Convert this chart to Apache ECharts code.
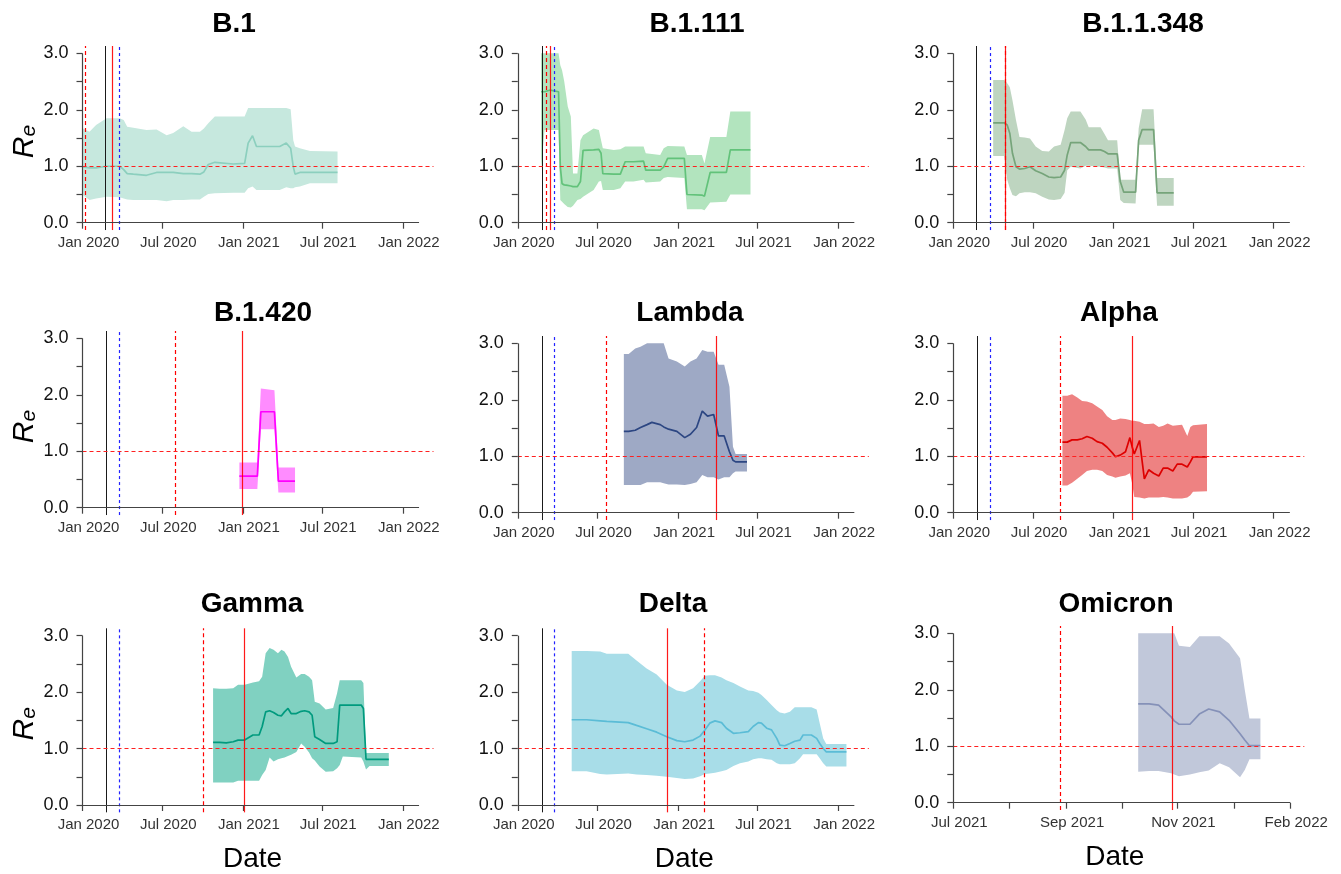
<!DOCTYPE html>
<html>
<head>
<meta charset="utf-8">
<script src="https://cdn.jsdelivr.net/npm/echarts@6/dist/echarts.min.js"></script>
<style>
html,body{margin:0;padding:0;background:#ffffff;}
#chart{width:1341px;height:874px;}
</style>
</head>
<body>
<div id="chart"></div>
<script>
// ---------- axis ticks ----------
const xTickDates = ['2020-01-01','2020-07-01','2021-01-01','2021-07-01','2022-01-01'];
const xTickLabels = ['Jan 2020','Jul 2020','Jan 2021','Jul 2021','Jan 2022'];
const omiTickDates = ['2021-07-01','2021-08-06','2021-09-11','2021-10-17','2021-11-21','2021-12-27','2022-02-01'];
const omiTickLabels = ['Jul 2021','','Sep 2021','','Nov 2021','','Feb 2022'];
const yTickValues = [0,0.5,1,1.5,2,2.5,3];
const yLabelValues = [0,1,2,3];

// ---------- variants ----------
const variantNames = ['B.1','B.1.111','B.1.1.348','B.1.420','Lambda','Alpha','Gamma','Delta','Omicron'];

// B.1
const b1Dates = ['2020-01-02','2020-01-17','2020-02-01','2020-02-25','2020-03-26','2020-04-04','2020-04-12','2020-04-26','2020-05-26','2020-06-18','2020-07-11','2020-07-26','2020-08-18','2020-09-06','2020-09-25','2020-10-04','2020-10-14','2020-10-29','2020-12-10','2021-01-05','2021-01-13','2021-01-23','2021-02-01','2021-03-26','2021-04-10','2021-04-20','2021-04-26','2021-04-30','2021-05-11','2021-06-03','2021-08-05'];
const b1Re = [0.99,0.97,0.97,1.00,1.00,0.94,0.87,0.86,0.84,0.89,0.89,0.89,0.87,0.87,0.86,0.90,1.03,1.07,1.04,1.05,1.41,1.54,1.35,1.35,1.41,1.32,0.99,0.86,0.89,0.89,0.89];
const b1Lo = [0.49,0.40,0.43,0.46,0.45,0.43,0.41,0.40,0.40,0.40,0.38,0.40,0.40,0.41,0.41,0.46,0.51,0.52,0.53,0.53,0.61,0.64,0.58,0.58,0.63,0.61,0.61,0.63,0.64,0.70,0.70];
const b1Hi = [1.67,1.61,1.73,1.85,1.85,1.82,1.70,1.68,1.64,1.65,1.55,1.59,1.71,1.61,1.61,1.67,1.76,1.88,1.88,1.88,2.03,2.03,2.03,2.03,2.03,2.01,1.46,1.35,1.32,1.27,1.26];

// B.1.111
const b1111Dates = ['2020-02-23','2020-03-02','2020-03-15','2020-04-03','2020-04-07','2020-04-11','2020-04-16','2020-04-24','2020-05-01','2020-05-06','2020-05-16','2020-05-23','2020-05-29','2020-06-22','2020-07-04','2020-07-09','2020-07-13','2020-08-07','2020-08-22','2020-09-02','2020-09-21','2020-10-14','2020-10-19','2020-11-21','2020-11-29','2020-12-08','2021-01-15','2021-01-21','2021-02-24','2021-03-02','2021-03-15','2021-04-21','2021-04-30','2021-06-15'];
const b1111Re = [2.32,2.32,2.35,2.32,0.99,0.69,0.67,0.66,0.65,0.64,0.64,0.73,1.28,1.29,1.30,1.23,0.87,0.86,0.86,1.08,1.08,1.09,0.93,0.93,0.99,1.14,1.14,0.50,0.49,0.47,0.89,0.89,1.29,1.29];
const b1111Lo = [0.93,1.64,1.64,1.64,0.40,0.37,0.33,0.28,0.27,0.30,0.40,0.42,0.46,0.58,0.73,0.74,0.58,0.58,0.61,0.73,0.73,0.76,0.71,0.73,0.79,0.81,0.79,0.24,0.24,0.22,0.36,0.37,0.50,0.50];
const b1111Hi = [3.0,3.0,3.0,3.0,2.79,2.70,2.50,2.06,1.88,0.87,0.87,1.46,1.55,1.67,1.64,1.46,1.32,1.29,1.30,1.35,1.35,1.35,1.23,1.20,1.32,1.36,1.35,1.20,1.20,1.05,1.52,1.52,1.97,1.97];

// B.1.1.348
const b11348Dates = ['2020-04-01','2020-04-26','2020-05-03','2020-05-09','2020-05-15','2020-05-23','2020-05-31','2020-06-12','2020-06-24','2020-07-07','2020-07-22','2020-08-06','2020-08-18','2020-09-02','2020-09-11','2020-09-17','2020-09-25','2020-10-17','2020-10-29','2020-11-05','2020-12-02','2020-12-11','2020-12-19','2021-01-09','2021-01-16','2021-01-24','2021-02-20','2021-02-27','2021-03-07','2021-04-02','2021-04-10','2021-05-18'];
const b11348Re = [1.77,1.77,1.73,1.58,1.23,0.99,0.95,0.96,0.99,0.92,0.87,0.81,0.80,0.81,0.93,1.20,1.42,1.42,1.35,1.29,1.29,1.26,1.22,1.22,0.73,0.54,0.54,1.46,1.65,1.65,0.53,0.53];
const b11348Lo = [1.18,1.18,0.76,0.61,0.49,0.47,0.52,0.54,0.54,0.52,0.46,0.41,0.40,0.42,0.53,0.93,0.99,0.96,1.01,1.01,0.99,0.98,0.96,0.96,0.40,0.35,0.34,1.38,1.38,1.38,0.30,0.30];
const b11348Hi = [2.53,2.53,2.47,2.40,2.17,1.82,1.52,1.51,1.49,1.35,1.27,1.26,1.35,1.38,1.64,1.85,1.97,1.97,1.83,1.69,1.69,1.57,1.46,1.46,0.76,0.76,0.76,1.67,2.01,2.01,0.79,0.79];

// B.1.420
const b1420Dates = ['2020-12-24','2021-02-03','2021-02-11','2021-03-14','2021-03-23','2021-04-30'];
const b1420Re = [0.56,0.56,1.70,1.70,0.47,0.47];
const b1420Lo = [0.33,0.33,1.39,1.39,0.27,0.27];
const b1420Hi = [0.80,0.80,2.11,2.08,0.71,0.71];

// Lambda
const lambdaDates = ['2020-08-30','2020-09-10','2020-09-25','2020-10-07','2020-10-22','2020-11-02','2020-11-21','2020-11-29','2020-12-10','2020-12-29','2021-01-16','2021-01-29','2021-02-12','2021-02-25','2021-03-09','2021-03-23','2021-04-03','2021-04-16','2021-04-28','2021-05-06','2021-05-12','2021-06-07'];
const lambdaRe = [1.44,1.44,1.46,1.51,1.56,1.60,1.56,1.52,1.48,1.44,1.33,1.39,1.51,1.80,1.71,1.74,1.36,1.36,1.08,0.93,0.90,0.90];
const lambdaLo = [0.49,0.49,0.49,0.49,0.54,0.54,0.54,0.52,0.50,0.50,0.49,0.51,0.54,0.67,0.63,0.63,0.59,0.63,0.63,0.70,0.73,0.73];
const lambdaHi = [2.81,2.81,2.91,2.94,3.0,3.0,3.0,3.0,2.73,2.68,2.59,2.68,2.73,2.88,2.85,2.85,2.62,2.62,2.23,1.17,1.04,1.04];

// Alpha
const alphaDates = ['2020-09-06','2020-09-17','2020-09-28','2020-10-10','2020-10-21','2020-11-01','2020-11-13','2020-11-24','2020-12-06','2020-12-17','2020-12-29','2021-01-05','2021-01-16','2021-01-28','2021-02-07','2021-02-12','2021-02-17','2021-03-01','2021-03-12','2021-03-22','2021-04-02','2021-04-14','2021-04-24','2021-05-04','2021-05-16','2021-05-26','2021-06-06','2021-06-18','2021-06-25','2021-07-01','2021-08-02'];
const alphaRe = [1.25,1.25,1.29,1.29,1.31,1.35,1.32,1.26,1.23,1.16,1.06,0.99,1.02,1.08,1.33,1.17,1.04,1.28,0.60,0.76,0.70,0.65,0.79,0.79,0.74,0.86,0.86,0.81,0.90,0.99,0.99];
const alphaLo = [0.48,0.48,0.53,0.60,0.67,0.74,0.76,0.76,0.74,0.67,0.64,0.62,0.64,0.66,0.70,0.52,0.28,0.27,0.25,0.27,0.27,0.27,0.28,0.27,0.25,0.25,0.25,0.27,0.31,0.37,0.38];
const alphaHi = [2.07,2.07,2.10,2.04,1.98,1.97,1.94,1.88,1.82,1.71,1.64,1.64,1.67,1.66,1.64,1.63,1.63,1.61,1.57,1.57,1.58,1.52,1.54,1.58,1.54,1.55,1.56,1.36,1.52,1.55,1.57];

// Gamma
const gammaDates = ['2020-10-25','2020-11-09','2020-11-24','2020-12-10','2020-12-21','2021-01-05','2021-01-24','2021-02-07','2021-02-14','2021-02-22','2021-03-03','2021-03-12','2021-03-22','2021-03-30','2021-04-06','2021-04-14','2021-04-21','2021-05-03','2021-05-14','2021-05-22','2021-06-01','2021-06-08','2021-06-14','2021-06-25','2021-07-09','2021-07-26','2021-08-04','2021-08-10','2021-08-17','2021-09-28','2021-10-03','2021-10-09','2021-10-17','2021-11-30'];
const gammaRe = [1.11,1.11,1.10,1.12,1.15,1.15,1.24,1.24,1.39,1.65,1.67,1.64,1.59,1.58,1.65,1.71,1.62,1.62,1.66,1.67,1.65,1.59,1.21,1.16,1.09,1.09,1.12,1.77,1.77,1.77,1.71,0.81,0.81,0.81];
const gammaLo = [0.40,0.40,0.40,0.40,0.43,0.43,0.43,0.43,0.53,0.62,0.84,0.77,0.81,0.83,0.84,0.87,0.89,0.94,1.09,1.03,0.93,0.83,0.79,0.68,0.59,0.60,0.65,0.71,0.86,0.84,0.77,0.63,0.69,0.69];
const gammaHi = [2.07,2.06,2.06,2.07,2.13,2.13,2.17,2.19,2.27,2.69,2.78,2.75,2.69,2.75,2.72,2.62,2.45,2.26,2.32,2.32,2.27,2.21,1.83,1.80,1.69,1.72,1.98,2.21,2.21,2.21,2.16,0.92,0.92,0.92];

// Delta
const deltaDates = ['2020-05-03','2020-06-06','2020-07-07','2020-07-22','2020-09-09','2020-09-28','2020-10-21','2020-11-13','2020-12-06','2020-12-29','2021-01-16','2021-02-04','2021-02-20','2021-03-03','2021-03-14','2021-03-26','2021-04-10','2021-04-21','2021-05-07','2021-05-22','2021-06-10','2021-06-21','2021-07-03','2021-07-10','2021-07-22','2021-08-02','2021-08-14','2021-08-21','2021-09-01','2021-09-13','2021-09-24','2021-10-06','2021-10-13','2021-11-01','2021-11-13','2021-11-20','2021-11-28','2021-12-05','2022-01-20'];
const deltaRe = [1.51,1.51,1.49,1.48,1.46,1.41,1.35,1.29,1.21,1.14,1.12,1.15,1.22,1.33,1.45,1.49,1.46,1.36,1.27,1.28,1.30,1.39,1.46,1.45,1.36,1.33,1.18,1.06,1.05,1.09,1.13,1.15,1.24,1.24,1.18,1.09,1.00,0.94,0.94];
const deltaLo = [0.60,0.60,0.55,0.54,0.56,0.54,0.53,0.52,0.50,0.48,0.46,0.47,0.51,0.55,0.56,0.57,0.60,0.62,0.69,0.74,0.77,0.81,0.83,0.83,0.81,0.80,0.74,0.72,0.72,0.72,0.74,0.83,0.90,0.90,0.90,0.83,0.74,0.68,0.68];
const deltaHi = [2.73,2.73,2.72,2.68,2.68,2.56,2.42,2.31,2.13,2.03,2.00,2.07,2.19,2.29,2.30,2.30,2.26,2.21,2.16,2.10,2.03,2.02,1.99,1.95,1.86,1.77,1.68,1.64,1.62,1.65,1.73,1.73,1.73,1.73,1.69,1.45,1.18,1.08,1.08];

// Omicron
const omicronDates = ['2021-10-27','2021-11-03','2021-11-09','2021-11-17','2021-11-19','2021-11-22','2021-11-29','2021-12-05','2021-12-11','2021-12-18','2021-12-24','2021-12-31','2022-01-03','2022-01-06','2022-01-13'];
const omicronRe = [1.75,1.75,1.73,1.52,1.45,1.39,1.39,1.57,1.66,1.61,1.46,1.22,1.11,1.01,1.01];
const omicronLo = [0.55,0.56,0.56,0.52,0.50,0.47,0.50,0.54,0.57,0.70,0.63,0.45,0.58,0.77,0.77];
const omicronHi = [3.0,3.0,3.0,3.0,3.0,2.78,2.76,2.95,2.95,2.95,2.82,2.56,2.00,1.49,1.49];

// reference dates (vertical lines), one per panel
const vBlack    = ['2020-02-23','2020-02-25','2020-02-23','2020-02-24','2020-02-25','2020-02-24','2020-02-24','2020-02-26',null];
const vBlue     = ['2020-03-24','2020-03-25','2020-03-25','2020-03-25','2020-03-25','2020-03-25','2020-03-25','2020-03-25',null];
const vRedDash  = ['2020-01-08','2020-03-06','2020-04-29','2020-07-31','2020-07-20','2020-09-02','2020-10-02','2021-03-01','2021-09-07'];
const vRedSolid = ['2020-03-09','2020-03-14','2020-04-29','2020-12-31','2021-03-29','2021-02-12','2021-01-05','2020-12-07','2021-11-18'];

// axis ranges
const X_START = '2020-01-01', X_END = '2022-03-12', X_SPINE_END = '2022-02-07';
const OMI_X_START = '2021-07-01', OMI_X_END = '2022-02-10', OMI_SPINE_END = '2022-02-01';

// ---------- styling / layout ----------
const bandColors = ['#c6e8de','#b2e4be','#bed5c0','#ff8cff','#9ea9c5','#ee8282','#80d1c1','#a8dde8','#c1c8da'];
const lineColors = ['#8ccfbe','#62c27a','#76a47a','#ff00ff','#2c4682','#dd0000','#009a7e','#5bbcd6','#8591b8'];
const colLeft = [82.5, 517.8, 953.3];
const zeroY = [222.7,222.7,222.7,507.7,512.7,512.7,805,805,802.7];
const titleX = [234,697,1143,263,690,1119,252,673,1116];
const titleCapY = [22.5,22.5,22.5,311,311,311,602,602,602];
const dateShift = [5.5, 9, 14];
const PX_PER_UNIT = 56.45, Y_MAX = 3.13, Y_MIN = -0.13;

const SANS = "'Liberation Sans', Arial, Helvetica, sans-serif";

// condensed tick-label font if available, otherwise a smaller regular face
function fontAvailable(name) {
  const c = document.createElement('canvas').getContext('2d');
  c.font = "40px monospace"; const w0 = c.measureText('Jan 2020 Jul').width;
  c.font = "40px '" + name + "', monospace"; const w1 = c.measureText('Jan 2020 Jul').width;
  return Math.abs(w0 - w1) > 0.5;
}
const hasNarrow = fontAvailable('Liberation Sans Narrow');
const X_LABEL_FONT = hasNarrow ? "'Liberation Sans Narrow', " + SANS : SANS;
const X_LABEL_SIZE = hasNarrow ? 17 : 15;

const panels = [
  {dates:b1Dates, re:b1Re, lo:b1Lo, hi:b1Hi},
  {dates:b1111Dates, re:b1111Re, lo:b1111Lo, hi:b1111Hi},
  {dates:b11348Dates, re:b11348Re, lo:b11348Lo, hi:b11348Hi},
  {dates:b1420Dates, re:b1420Re, lo:b1420Lo, hi:b1420Hi},
  {dates:lambdaDates, re:lambdaRe, lo:lambdaLo, hi:lambdaHi},
  {dates:alphaDates, re:alphaRe, lo:alphaLo, hi:alphaHi},
  {dates:gammaDates, re:gammaRe, lo:gammaLo, hi:gammaHi},
  {dates:deltaDates, re:deltaRe, lo:deltaLo, hi:deltaHi},
  {dates:omicronDates, re:omicronRe, lo:omicronLo, hi:omicronHi}
];

const ts = s => Date.parse(s + 'T00:00:00Z');

const grids = [], xAxes = [], yAxes = [], series = [], titles = [];

panels.forEach((p, i) => {
  const col = i % 3, row = Math.floor(i / 3);
  const omi = i === 8;
  const top = zeroY[i] - Y_MAX * PX_PER_UNIT;
  const height = (Y_MAX - Y_MIN) * PX_PER_UNIT;
  grids.push({left: colLeft[col], top: top, width: 351, height: height, containLabel: false, outerBoundsMode: 'none'});

  const tVals = (omi ? omiTickDates : xTickDates).map(ts);
  const tLabels = omi ? omiTickLabels : xTickLabels;
  const xmin = ts(omi ? OMI_X_START : X_START);
  const xmax = ts(omi ? OMI_X_END : X_END);
  const xSpineEnd = ts(omi ? OMI_SPINE_END : X_SPINE_END);

  xAxes.push({
    gridIndex: i, type: 'value', min: xmin, max: xmax,
    axisLine: {show: false, onZero: true},
    splitLine: {show: false},
    axisTick: {show: true, customValues: tVals, length: 6, lineStyle: {color: '#444', width: 1.2}},
    axisLabel: {
      customValues: tVals,
      formatter: v => { let k = 0, b = Infinity; tVals.forEach((t, j) => { const d = Math.abs(t - v); if (d < b) { b = d; k = j; } }); return tLabels[k]; },
      margin: 5, fontSize: X_LABEL_SIZE, fontFamily: X_LABEL_FONT, color: '#333', padding: [0, 0, 0, 12]
    },
    name: row === 2 ? 'Date' : '',
    nameLocation: 'middle', nameGap: 33,
    nameTextStyle: {fontSize: 28, fontFamily: SANS, color: '#000', padding: [0, dateShift[col] * 2, 0, 0]}
  });

  yAxes.push({
    gridIndex: i, type: 'value', min: Y_MIN, max: Y_MAX,
    axisLine: {show: false},
    splitLine: {show: false},
    axisTick: {show: true, customValues: yTickValues, length: 6, lineStyle: {color: '#444', width: 1.2}},
    axisLabel: {customValues: yLabelValues, formatter: v => v.toFixed(1), margin: 14, fontSize: 18, fontFamily: SANS, color: '#111'},
    name: col === 0 ? '{r|R}{s|e}' : '',
    nameLocation: 'middle', nameRotate: 90, nameGap: 43,
    nameTextStyle: {
      color: '#000', padding: [0, 7, 0, 0],
      rich: {
        r: {fontSize: 30, fontStyle: 'italic', fontFamily: SANS, color: '#000', lineHeight: 30},
        s: {fontSize: 21, fontStyle: 'italic', fontFamily: SANS, color: '#000', lineHeight: 8, verticalAlign: 'bottom'}
      }
    }
  });

  titles.push({
    text: variantNames[i], left: titleX[i], top: titleCapY[i] - 12, textAlign: 'center', padding: 0,
    textStyle: {fontSize: 28, fontWeight: 'bold', fontFamily: SANS, color: '#000'}
  });

  // credible-interval band: one polygon through the upper and lower bounds
  series.push({
    type: 'custom', xAxisIndex: i, yAxisIndex: i, silent: true, z: 1, clip: false,
    data: p.dates.map((d, j) => [ts(d), p.lo[j], p.hi[j]]),
    encode: {x: 0, y: [1, 2]},
    renderItem: (params, api) => {
      if (params.dataIndex !== 0) return null;
      const upper = p.dates.map((d, j) => api.coord([ts(d), p.hi[j]]));
      const lower = p.dates.map((d, j) => api.coord([ts(d), p.lo[j]])).reverse();
      return {type: 'polygon', shape: {points: upper.concat(lower)}, style: {fill: bandColors[i], stroke: null}};
    }
  });

  const ml = [];
  if (vBlack[i]) ml.push({xAxis: ts(vBlack[i]), lineStyle: {color: '#1a1a1a', width: 1, type: 'solid'}});
  if (vBlue[i]) ml.push({xAxis: ts(vBlue[i]), lineStyle: {color: '#2222ff', width: 1.2, type: [3, 3]}});
  if (vRedDash[i]) ml.push({xAxis: ts(vRedDash[i]), lineStyle: {color: '#ff0000', width: 1.2, type: [4, 3]}});
  if (vRedSolid[i]) ml.push({xAxis: ts(vRedSolid[i]), lineStyle: {color: '#ff0000', width: 1.2, type: 'solid', opacity: 0.9}});
  ml.push({yAxis: 1, lineStyle: {color: '#ff2020', width: 1.2, type: [4, 3]}});
  ml.push([{coord: [xmin, 0], lineStyle: {color: '#444', width: 1.2, type: 'solid'}}, {coord: [xmin, 3]}]);
  ml.push([{coord: [xmin, 0], lineStyle: {color: '#444', width: 1.2, type: 'solid'}}, {coord: [xSpineEnd, 0]}]);

  series.push({
    type: 'line', xAxisIndex: i, yAxisIndex: i, silent: true,
    data: p.dates.map((d, j) => [ts(d), p.re[j]]),
    symbol: 'none', lineStyle: {color: lineColors[i], width: 1.7}, z: 3,
    markLine: {silent: true, symbol: ['none', 'none'], label: {show: false}, animation: false, emphasis: {disabled: true}, data: ml}
  });
});

const chart = echarts.init(document.getElementById('chart'), null, {renderer: 'canvas'});
chart.setOption({
  backgroundColor: '#ffffff',
  animation: false,
  title: titles,
  grid: grids,
  xAxis: xAxes,
  yAxis: yAxes,
  series: series
});
</script>
</body>
</html>
